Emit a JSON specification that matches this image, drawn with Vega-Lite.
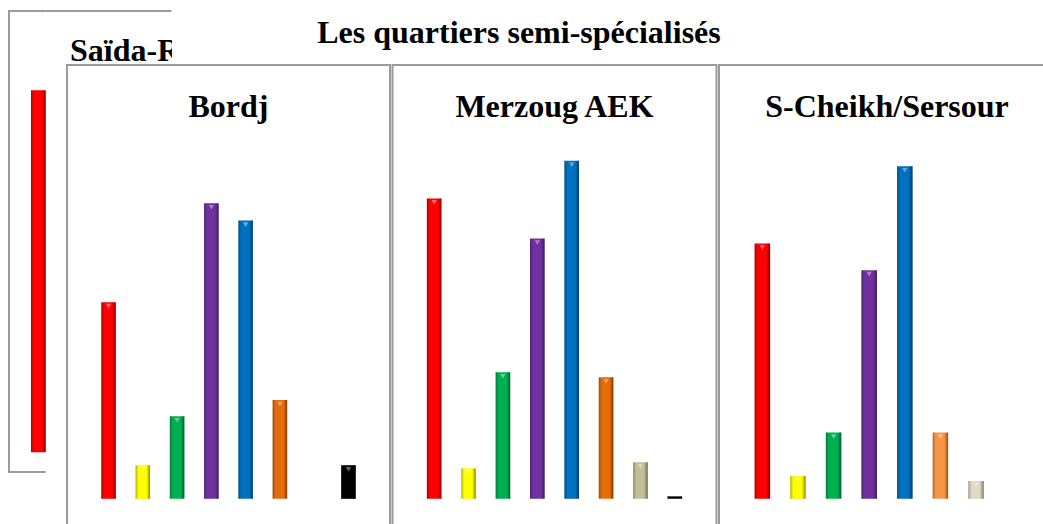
{
  "$schema": "https://vega.github.io/schema/vega-lite/v6.json",
  "background": "white",
  "padding": {"left": 8, "top": 10, "right": 0, "bottom": 0},
  "config": {
    "title": {"font": "Liberation Serif", "fontWeight": "bold", "fontSize": 32, "color": "#000000", "baseline": "alphabetic", "frame": "group"},
    "view": {"stroke": "#9a9a9a", "strokeWidth": 2, "fill": "white"}
  },
  "bounds": "flush",
  "spacing": 0,
  "resolve": {"scale": {"x": "independent", "y": "independent", "color": "independent"}},
  "hconcat": [
    {
      "width": 36.7,
      "height": 461,
      "view": {"stroke": "#9a9a9a", "strokeWidth": 2, "fill": "white", "strokeDash": [36.7, 461, 497.7]},
      "title": {"text": "Saïda-R", "anchor": "start", "dx": 61, "offset": -57},
      "data": {"values": [{"cat": "rouge", "pct": 36.2}]},
      "encoding": {
        "x": {"field": "cat", "type": "nominal", "sort": null, "axis": null,
              "scale": {"domain": ["rouge"], "paddingInner": 0, "paddingOuter": 0.748, "align": 1}},
        "y": {"field": "pct", "type": "quantitative", "axis": null, "scale": {"domain": [-1.97, 44.13], "nice": false, "zero": false}}
      },
      "layer": [
        {"mark": {"type": "bar"},
         "encoding": {"color": {"field": "cat", "type": "nominal", "legend": null,
           "scale": {"domain": ["rouge"], "range": ["#FF0000"]}}}},
        {"mark": {"type": "bar", "color": {"gradient": "linear", "x1": 0, "x2": 1, "y1": 0, "y2": 0,
           "stops": [{"offset": 0, "color": "rgba(0,0,0,0.3)"}, {"offset": 0.2, "color": "rgba(0,0,0,0)"}, {"offset": 0.75, "color": "rgba(0,0,0,0)"}, {"offset": 1, "color": "rgba(0,0,0,0.45)"}]}}}
      ]
    },
    {
      "spacing": 0,
      "resolve": {"scale": {"x": "independent", "y": "independent", "color": "independent"}},
      "vconcat": [
        {
          "bounds": "flush",
          "spacing": 0,
          "hconcat": [
            {"width": 125.3, "height": 51.5,
             "view": {"stroke": "#9a9a9a", "strokeWidth": 2, "fill": null, "strokeDash": [125.3, 3000]},
             "data": {"values": []}, "mark": "rule", "encoding": {}},
            {"width": 884, "height": 51.5, "view": {"stroke": null, "fill": "white"},
             "title": {"text": "Les quartiers semi-spécialisés", "anchor": "middle", "dx": -95, "offset": -39},
             "data": {"values": []}, "mark": "rule", "encoding": {}}
          ]
        },
        {
          "bounds": "flush",
          "spacing": 0,
          "resolve": {"scale": {"x": "independent", "y": "independent", "color": "independent"}},
          "hconcat": [
            {"width": 21, "height": 475, "view": {"stroke": null, "fill": "white"},
             "data": {"values": []}, "mark": "rule", "encoding": {}},
            {
              "bounds": "flush",
              "spacing": 2.5,
              "resolve": {"scale": {"x": "independent", "y": "independent", "color": "independent"}},
              "hconcat": [
                {
                  "width": 323,
                  "height": 475,
                  "title": {"text": "Bordj", "anchor": "middle", "offset": -58.5},
                  "data": {"values": [
                    {"cat": "rouge", "pct": 19.3},
                    {"cat": "jaune", "pct": 3.3},
                    {"cat": "vert", "pct": 8.1},
                    {"cat": "violet", "pct": 29.0},
                    {"cat": "bleu", "pct": 27.3},
                    {"cat": "orange", "pct": 9.7},
                    {"cat": "noir", "pct": 3.3}
                  ]},
                  "encoding": {
                    "x": {"field": "cat", "type": "nominal", "sort": null, "axis": null,
                          "scale": {"domain": ["rouge", "jaune", "vert", "violet", "bleu", "orange", "beige", "noir"], "paddingInner": 0.576, "paddingOuter": 1.194}},
                    "y": {"field": "pct", "type": "quantitative", "axis": null, "scale": {"domain": [-4.04, 42.57], "nice": false, "zero": false}}
                  },
                  "layer": [
                    {"mark": {"type": "bar"},
                     "encoding": {"color": {"field": "cat", "type": "nominal", "legend": null,
                       "scale": {"domain": ["rouge", "jaune", "vert", "violet", "bleu", "orange", "beige", "noir"],
                                 "range": ["#FF0000", "#FFFF00", "#00B050", "#7030A0", "#0070C0", "#E46C0A", "#C4BD97", "#000000"]}}}},
                    {"mark": {"type": "bar", "color": {"gradient": "linear", "x1": 0, "x2": 1, "y1": 0, "y2": 0,
                       "stops": [{"offset": 0, "color": "rgba(0,0,0,0.3)"}, {"offset": 0.2, "color": "rgba(0,0,0,0)"}, {"offset": 0.75, "color": "rgba(0,0,0,0)"}, {"offset": 1, "color": "rgba(0,0,0,0.45)"}]}}},
                    {"transform": [{"filter": "datum.pct > 1"}],
                     "mark": {"type": "point", "shape": "triangle-down", "filled": true, "size": 28, "color": "white", "opacity": 0.4, "yOffset": 4}}
                  ]
                },
                {
                  "width": 324,
                  "height": 475,
                  "title": {"text": "Merzoug AEK", "anchor": "middle", "offset": -58.5},
                  "data": {"values": [
                    {"cat": "rouge", "pct": 24.7},
                    {"cat": "jaune", "pct": 2.5},
                    {"cat": "vert", "pct": 10.4},
                    {"cat": "violet", "pct": 21.4},
                    {"cat": "bleu", "pct": 27.8},
                    {"cat": "orange", "pct": 10.0},
                    {"cat": "beige", "pct": 3.0},
                    {"cat": "noir", "pct": 0.2}
                  ]},
                  "encoding": {
                    "x": {"field": "cat", "type": "nominal", "sort": null, "axis": null,
                          "scale": {"domain": ["rouge", "jaune", "vert", "violet", "bleu", "orange", "beige", "noir"], "paddingInner": 0.576, "paddingOuter": 1.19}},
                    "y": {"field": "pct", "type": "quantitative", "axis": null, "scale": {"domain": [-3.39, 35.67], "nice": false, "zero": false}}
                  },
                  "layer": [
                    {"mark": {"type": "bar"},
                     "encoding": {"color": {"field": "cat", "type": "nominal", "legend": null,
                       "scale": {"domain": ["rouge", "jaune", "vert", "violet", "bleu", "orange", "beige", "noir"],
                                 "range": ["#FF0000", "#FFFF00", "#00B050", "#7030A0", "#0070C0", "#E46C0A", "#C4BD97", "#000000"]}}}},
                    {"mark": {"type": "bar", "color": {"gradient": "linear", "x1": 0, "x2": 1, "y1": 0, "y2": 0,
                       "stops": [{"offset": 0, "color": "rgba(0,0,0,0.3)"}, {"offset": 0.2, "color": "rgba(0,0,0,0)"}, {"offset": 0.75, "color": "rgba(0,0,0,0)"}, {"offset": 1, "color": "rgba(0,0,0,0.45)"}]}}},
                    {"transform": [{"filter": "datum.pct > 1"}],
                     "mark": {"type": "point", "shape": "triangle-down", "filled": true, "size": 28, "color": "white", "opacity": 0.4, "yOffset": 4}}
                  ]
                },
                {
                  "width": 336,
                  "height": 475,
                  "title": {"text": "S-Cheikh/Sersour", "anchor": "middle", "offset": -58.5},
                  "data": {"values": [
                    {"cat": "rouge", "pct": 25.8},
                    {"cat": "jaune", "pct": 2.3},
                    {"cat": "vert", "pct": 6.7},
                    {"cat": "violet", "pct": 23.1},
                    {"cat": "bleu", "pct": 33.6},
                    {"cat": "orange", "pct": 6.7},
                    {"cat": "beige", "pct": 1.8}
                  ]},
                  "encoding": {
                    "x": {"field": "cat", "type": "nominal", "sort": null, "axis": null,
                          "scale": {"domain": ["rouge", "jaune", "vert", "violet", "bleu", "orange", "beige", "noir"], "paddingInner": 0.566, "paddingOuter": 1.152}},
                    "y": {"field": "pct", "type": "quantitative", "axis": null, "scale": {"domain": [-4.16, 43.82], "nice": false, "zero": false}}
                  },
                  "layer": [
                    {"mark": {"type": "bar"},
                     "encoding": {"color": {"field": "cat", "type": "nominal", "legend": null,
                       "scale": {"domain": ["rouge", "jaune", "vert", "violet", "bleu", "orange", "beige", "noir"],
                                 "range": ["#FF0000", "#FFFF00", "#00B050", "#7030A0", "#0070C0", "#F79646", "#DDD9C3", "#000000"]}}}},
                    {"mark": {"type": "bar", "color": {"gradient": "linear", "x1": 0, "x2": 1, "y1": 0, "y2": 0,
                       "stops": [{"offset": 0, "color": "rgba(0,0,0,0.3)"}, {"offset": 0.2, "color": "rgba(0,0,0,0)"}, {"offset": 0.75, "color": "rgba(0,0,0,0)"}, {"offset": 1, "color": "rgba(0,0,0,0.45)"}]}}},
                    {"transform": [{"filter": "datum.pct > 1"}],
                     "mark": {"type": "point", "shape": "triangle-down", "filled": true, "size": 28, "color": "white", "opacity": 0.4, "yOffset": 4}}
                  ]
                }
              ]
            }
          ]
        }
      ]
    }
  ]
}
